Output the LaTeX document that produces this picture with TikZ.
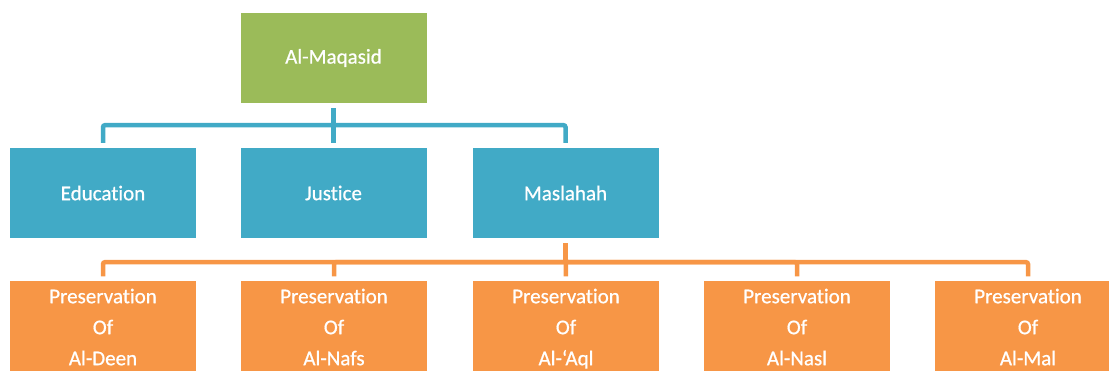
\documentclass[tikz,border=0pt]{standalone}
\usepackage{fontspec}
\setmainfont{Carlito}[Ligatures=NoCommon]
\newfontfamily\boxfont{Carlito}[Ligatures=NoCommon, FakeBold=0.7]
\definecolor{mqgreen}{HTML}{9BBB59}
\definecolor{mqblue}{HTML}{41AAC6}
\definecolor{mqorange}{HTML}{F79646}
\tikzset{
  box/.style={rectangle, minimum width=186pt, minimum height=90pt, inner sep=0pt,
    text=white, align=center, font=\boxfont\fontsize{21}{31}\selectfont},
  greenbox/.style={box, fill=mqgreen},
  bluebox/.style={box, fill=mqblue},
  orangebox/.style={box, fill=mqorange},
  conn/.style={line width=4.5pt, rounded corners=2pt, shorten <=5pt, shorten >=5pt},
}
\begin{document}
\begin{tikzpicture}[x=1pt,y=1pt]
\useasboundingbox (0,0) rectangle (1109,-371);
\clip (0,0) rectangle (1109,-371);
\node[greenbox] (top) at (333.5,-58) {Al-Maqasid};
\node[bluebox] (edu) at (103,-193) {Education};
\node[bluebox] (jus) at (333.5,-193) {Justice};
\node[bluebox] (mas) at (565.5,-193) {Maslahah};
\node[orangebox] (p1) at (103,-328) {\strut Preservation\\\strut Of\\\strut Al-Deen};
\node[orangebox] (p2) at (334,-328) {\strut Preservation\\\strut Of\\\strut Al-Nafs};
\node[orangebox] (p3) at (566,-328) {\strut Preservation\\\strut Of\\\strut Al-‘Aql};
\node[orangebox] (p4) at (797,-328) {\strut Preservation\\\strut Of\\\strut Al-Nasl};
\node[orangebox] (p5) at (1028,-328) {\strut Preservation\\\strut Of\\\strut Al-Mal};
\begin{scope}[draw=mqblue]
\draw[conn] (top.south) -- ++(0,-22) -| (edu.north);
\draw[conn] (top.south) -- (jus.north);
\draw[conn] (top.south) -- ++(0,-22) -| (mas.north);
\end{scope}
\begin{scope}[draw=mqorange]
\draw[conn] (mas.south) -- ++(0,-24) -| (p1.north);
\draw[conn] (mas.south) -- ++(0,-24) -| (p2.north);
\draw[conn] (mas.south) -- (p3.north);
\draw[conn] (mas.south) -- ++(0,-24) -| (p4.north);
\draw[conn] (mas.south) -- ++(0,-24) -| (p5.north);
\end{scope}
\end{tikzpicture}
\end{document}
